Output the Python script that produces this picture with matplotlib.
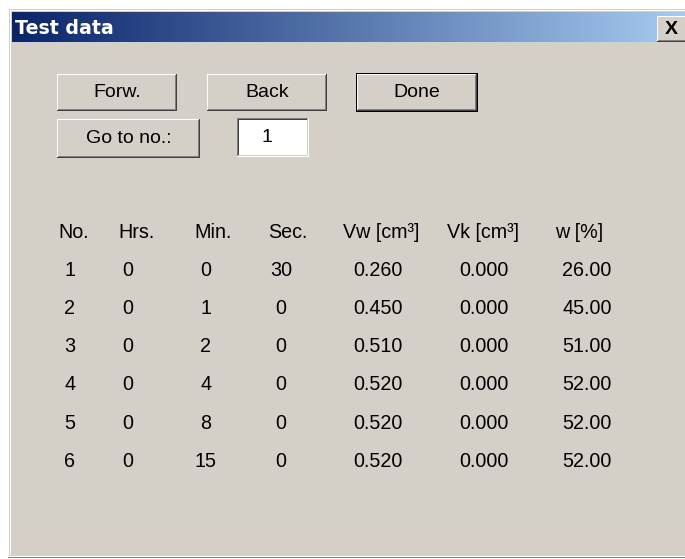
import matplotlib
matplotlib.use("Agg")
import matplotlib.pyplot as plt
import numpy as np
from matplotlib.patches import Rectangle

# ---- data ----
title = "Test data"
buttons = ["Forw.", "Back", "Done", "Go to no.:"]
goto_value = "1"
headers = ["No.", "Hrs.", "Min.", "Sec.", "Vw [cm³]", "Vk [cm³]", "w [%]"]
no_col = [1, 2, 3, 4, 5, 6]
hrs_col = [0, 0, 0, 0, 0, 0]
min_col = [0, 1, 2, 4, 8, 15]
sec_col = [30, 0, 0, 0, 0, 0]
vw_col = [0.260, 0.450, 0.510, 0.520, 0.520, 0.520]
vk_col = [0.000, 0.000, 0.000, 0.000, 0.000, 0.000]
w_col = [26.00, 45.00, 51.00, 52.00, 52.00, 52.00]

W, H = 685, 559
BG = "#D4D0C8"
FONT = "Liberation Sans"

fig = plt.figure(figsize=(W / 100, H / 100), dpi=100)
fig.patch.set_facecolor("white")
ax = fig.add_axes([0, 0, 1, 1])
ax.set_xlim(0, W)
ax.set_ylim(H, 0)
ax.axis("off")

def rect(x0, y0, x1, y1, color, z=1):
    ax.add_patch(Rectangle((x0, y0), x1 - x0, y1 - y0, facecolor=color,
                           edgecolor="none", zorder=z))

# dialog frame
rect(8, 8, W, 558, "#808080", 1)
rect(8, 8, W, 557, "#FFFFFF", 1.1)
rect(9, 9, W, 556, BG, 1.2)
rect(10, 10, W, 555, "#FFFFFF", 1.3)
rect(11, 11, W, 555, BG, 1.4)

# title bar gradient
grad = np.linspace(0, 1, 400)[None, :]
c0 = np.array([10, 36, 106]) / 255
c1 = np.array([166, 202, 240]) / 255
img = c0[None, None, :] * (1 - grad[..., None]) + c1[None, None, :] * grad[..., None]
ax.imshow(img, extent=(12, W, 42, 12), aspect="auto", zorder=2, interpolation="bilinear")
ax.text(15, 28, title, color="white", fontsize=13.7, fontweight="bold",
        family="DejaVu Sans", ha="left", va="center", zorder=3)

def button(x0, y0, x1, y1, label, default=False, fs=14, bold=False, lx=None, ly=None):
    if default:
        rect(x0 - 1, y0 - 1, x1 + 1, y1 + 1, "#000000", 4)
    rect(x0, y0, x1, y1, "#404040", 4.1)
    rect(x0, y0, x1 - 1, y1 - 1, "#FFFFFF", 4.2)
    rect(x0 + 1, y0 + 1, x1 - 1, y1 - 1, "#808080", 4.3)
    rect(x0 + 1, y0 + 1, x1 - 2, y1 - 2, BG, 4.4)
    ax.text((x0 + x1) / 2 if lx is None else lx, (y0 + y1) / 2 if ly is None else ly,
            label, fontsize=fs, family=FONT, fontweight="bold" if bold else "normal",
            ha="center", va="center", color="black", zorder=5)

# close button
button(657, 16, 690, 42, "X", fs=14, bold=True, lx=671)

# top buttons
button(57, 74, 177, 111, buttons[0])
button(207, 74, 327, 111, buttons[1])
button(357, 74, 477, 111, buttons[2], default=True)
button(57, 119, 200, 158, buttons[3])

# text box (sunken)
tx0, ty0, tx1, ty1 = 237, 118, 309, 157
rect(tx0, ty0, tx1, ty1, "#FFFFFF", 4)
rect(tx0, ty0, tx1 - 1, ty1 - 1, "#808080", 4.1)
rect(tx0 + 1, ty0 + 1, tx1 - 1, ty1 - 1, "#D4D0C8", 4.2)
rect(tx0 + 1, ty0 + 1, tx1 - 2, ty1 - 2, "#404040", 4.3)
rect(tx0 + 2, ty0 + 2, tx1 - 2, ty1 - 2, "#FFFFFF", 4.4)
ax.text(267, 137, goto_value, fontsize=14, family=FONT, ha="center", va="center", zorder=5)

# table
head_x = [58, 118, 194, 268, 343, 447, 555]
col_x = [70, 128, 206, 281, 378, 484, 587]
head_y = 232
row_y0, row_dy = 270, 38.3

for hx, h in zip(head_x, headers):
    ax.text(hx, head_y, h, fontsize=14.2, family=FONT, ha="left", va="center", zorder=5)

cols = [
    [str(v) for v in no_col],
    [str(v) for v in hrs_col],
    [str(v) for v in min_col],
    [str(v) for v in sec_col],
    [f"{v:.3f}" for v in vw_col],
    [f"{v:.3f}" for v in vk_col],
    [f"{v:.2f}" for v in w_col],
]
for cx, col in zip(col_x, cols):
    for i, s in enumerate(col):
        ax.text(cx, row_y0 + i * row_dy, s, fontsize=14.2, family=FONT,
                ha="center", va="center", zorder=5)

fig.savefig("out.png", dpi=100, facecolor="white")
